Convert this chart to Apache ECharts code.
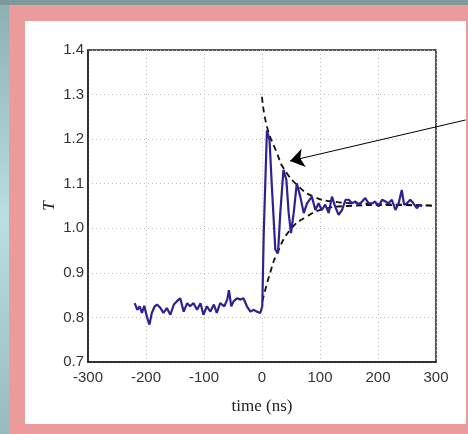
<!DOCTYPE html>
<html><head><meta charset="utf-8">
<script src="https://cdn.jsdelivr.net/npm/echarts@6/dist/echarts.min.js"></script>
<style>
html,body{margin:0;padding:0;width:468px;height:434px;overflow:hidden;}
#bg{position:absolute;left:0;top:0;width:468px;height:434px;background:#7d999b;}
#strip{position:absolute;left:0;top:5px;width:9px;height:429px;background:linear-gradient(#8fb0b3,#b8dfe3 50%,#98babd);}
#pink{position:absolute;left:9px;top:5px;width:459px;height:429px;background:#eb9b9c;}
#white{position:absolute;left:25px;top:21px;width:441px;height:403px;background:#fff;}
#chart{position:absolute;left:0;top:0;width:468px;height:434px;}
</style></head><body>
<div id="bg"></div><div id="strip"></div><div id="pink"></div><div id="white"></div>
<div id="chart"></div>
<script>
// measured signal: time (ns), transmission T
const signalTime = [-219.5,-215,-211,-207,-203,-198,-194,-190,-185,-181,-175,-170,-164,-158,-152,-147,-141,-135,-129,-124,-118,-112,-106,-101,-95,-89,-83,-78,-72,-65,-60,-57,-53,-49,-43,-37,-32,-26,-20,-14,-9,-3,0.5,3,8.5,13,17,23,27.6,31.5,37,42,46,50,54.6,60,66,72,77.6,86,92,97.6,103,109,115,120.6,126,132,138,144,149.6,155,161,167,172.6,178,184,190,195,201,207,213,218,224,230,235.6,241,245,250,255.7,261,267,272,276];
const signalT = [0.832,0.817,0.825,0.81,0.826,0.799,0.784,0.81,0.825,0.829,0.821,0.81,0.821,0.806,0.829,0.836,0.843,0.813,0.832,0.825,0.832,0.817,0.832,0.806,0.825,0.813,0.829,0.81,0.832,0.825,0.84,0.861,0.825,0.836,0.843,0.84,0.843,0.825,0.813,0.817,0.813,0.81,0.825,0.989,1.22,1.198,1.094,0.952,0.944,1.034,1.131,1.109,1.034,0.989,1.034,1.101,1.071,1.034,1.056,1.071,1.041,1.056,1.041,1.053,1.034,1.071,1.049,1.03,1.041,1.064,1.064,1.056,1.06,1.053,1.06,1.068,1.056,1.056,1.06,1.049,1.064,1.06,1.056,1.064,1.041,1.056,1.086,1.053,1.056,1.064,1.056,1.045,1.053,1.049];
// upper envelope (dashed)
const upperTime = [0,8.6,26,37,63,89,123,181,238,293];
const upperT = [1.295,1.228,1.168,1.135,1.094,1.071,1.06,1.055,1.053,1.051];
// lower envelope (dashed)
const lowerTime = [0.6,14,26,49,78,106,147,210,293];
const lowerT = [0.836,0.9,0.944,0.997,1.027,1.043,1.05,1.052,1.051];
// arrow annotation (from, to) in data coords
const arrowFrom = [351, 1.243];
const arrowTo = [48.3, 1.151];
const xTicks = [-300,-200,-100,0,100,200,300];
const yTicks = [0.7,0.8,0.9,1.0,1.1,1.2,1.3,1.4];

const zip = (a,b)=>a.map((v,i)=>[v,b[i]]);
const chart = echarts.init(document.getElementById('chart'), null, {renderer:'canvas'});
const labelStyle = {color:'#333', fontFamily:'Liberation Sans, Arial, sans-serif', fontSize:15};
const gridLine = {show:true, lineStyle:{color:'#bdbdbd', type:[1,3], width:1}};
chart.setOption({
  backgroundColor:'transparent',
  animation:false,
  grid:{left:88, top:50, width:348, height:312, show:true, borderColor:'#222', borderWidth:1.5, backgroundColor:'#fff'},
  xAxis:{type:'value', min:xTicks[0], max:xTicks[xTicks.length-1], interval:100,
    name:'time (ns)', nameLocation:'middle', nameGap:36, nameMoveOverlap:false,
    nameTextStyle:{fontFamily:'Liberation Serif, Times New Roman, serif', fontSize:17, color:'#222'},
    axisLine:{show:true, onZero:false, lineStyle:{color:'#222', width:1.5}},
    axisTick:{show:false},
    axisLabel:Object.assign({margin:8}, labelStyle),
    splitLine:gridLine},
  yAxis:{type:'value', min:yTicks[0], max:yTicks[yTicks.length-1], interval:0.1,
    name:'T', nameLocation:'middle', nameGap:30, nameMoveOverlap:false,
    nameTextStyle:{fontFamily:'Liberation Serif, Times New Roman, serif', fontStyle:'italic', fontSize:17, color:'#222'},
    axisLine:{show:true, onZero:false, lineStyle:{color:'#222', width:1.5}},
    axisTick:{show:false},
    axisLabel:Object.assign({margin:4, formatter:v=>v.toFixed(1)}, labelStyle),
    splitLine:gridLine},
  series:[
    {type:'line', data:zip(upperTime,upperT), smooth:true, showSymbol:false, z:3,
     lineStyle:{color:'#111', width:1.8, type:[6,4]}},
    {type:'line', data:zip(lowerTime,lowerT), smooth:true, showSymbol:false, z:3,
     lineStyle:{color:'#111', width:1.8, type:[6,4]}},
    {type:'line', data:zip(signalTime,signalT), showSymbol:false, z:4,
     lineStyle:{color:'#2e2190', width:2.2}},
    {type:'lines', coordinateSystem:'cartesian2d', clip:false, z:5,
     symbol:['none','arrow'], symbolSize:[0,14],
     lineStyle:{color:'#000', width:1, opacity:1},
     data:[{coords:[arrowFrom, arrowTo]}]}
  ]
});
</script>
</body></html>
